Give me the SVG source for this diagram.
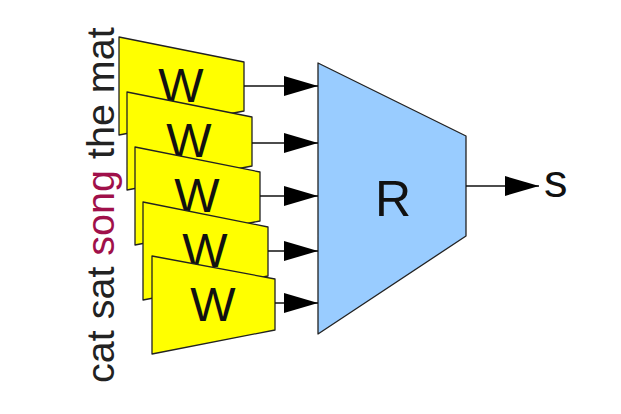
<svg xmlns="http://www.w3.org/2000/svg" width="621" height="414" viewBox="0 0 621 414">
<style>
.w{fill:#ffff00;stroke:#222;stroke-width:1.3;stroke-linejoin:round}
.wt{font-family:"Liberation Sans",Arial,sans-serif;font-size:48px;fill:#111;text-anchor:middle}
.line{stroke:#111;stroke-width:1.3;fill:none}
.lbl{font-family:"Liberation Sans",Arial,sans-serif;fill:#111}
</style>
<defs>
<marker id="ah" markerWidth="34" markerHeight="22" refX="34" refY="11" orient="auto" markerUnits="userSpaceOnUse">
<path d="M0,1 L34,11 L0,21 Z" fill="#000"/>
</marker>
</defs>
<rect width="621" height="414" fill="#fff"/>
<g id="words">
<text class="lbl" font-size="39.5" transform="translate(114,383) rotate(-90)"><tspan fill="#222">cat sat </tspan><tspan fill="#a0104a">song</tspan><tspan fill="#222"> the mat</tspan></text>
</g>
<g id="W1"><path class="w" d="M119,37 L244,62 L244,111 L119,135 Z"/><text class="wt" x="181" y="102">W</text></g>
<g id="W2"><path class="w" d="M127,92 L252,117 L252,166 L127,190 Z"/><text class="wt" x="189" y="157">W</text></g>
<g id="W3"><path class="w" d="M135,147 L260,172 L260,221 L135,245 Z"/><text class="wt" x="197" y="212">W</text></g>
<g id="W4"><path class="w" d="M143,202 L268,227 L268,276 L143,300 Z"/><text class="wt" x="205" y="267">W</text></g>
<g id="W5"><path class="w" d="M152,256 L275,279 L275,330 L152,354 Z"/><text class="wt" x="213" y="321">W</text></g>
<g id="R">
<path d="M318,63 L466,136 L466,236 L318,334 Z" fill="#99ccff" stroke="#222" stroke-width="1.3" stroke-linejoin="round"/>
<text class="lbl" x="393" y="216" font-size="50" text-anchor="middle">R</text>
</g>
<g id="s"><text class="lbl" x="544" y="197" font-size="47">s</text></g>
<g id="connectors">
<line class="line" x1="244" y1="86" x2="318" y2="86" marker-end="url(#ah)"/>
<line class="line" x1="252" y1="143" x2="318" y2="143" marker-end="url(#ah)"/>
<line class="line" x1="260" y1="196" x2="318" y2="196" marker-end="url(#ah)"/>
<line class="line" x1="268" y1="251" x2="318" y2="251" marker-end="url(#ah)"/>
<line class="line" x1="275" y1="303" x2="318" y2="303" marker-end="url(#ah)"/>
<line class="line" x1="466" y1="186" x2="539" y2="186" marker-end="url(#ah)"/>
</g>
</svg>
